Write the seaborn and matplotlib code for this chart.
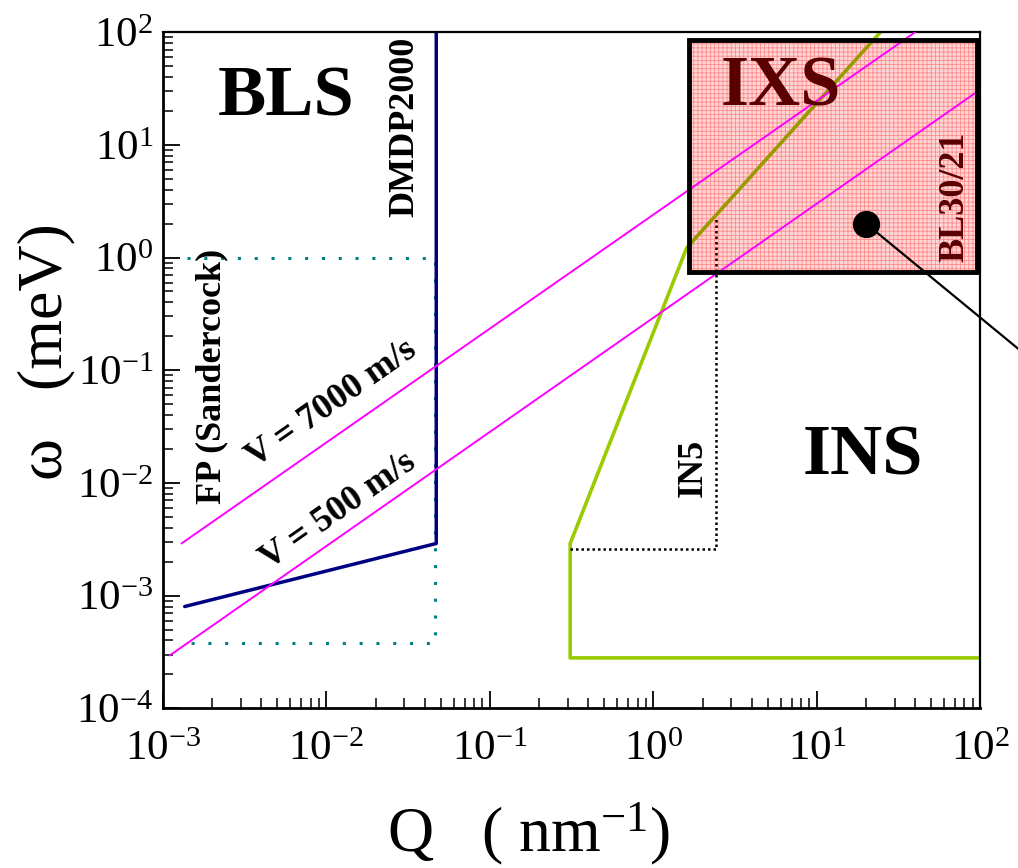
import seaborn as sns
import matplotlib.pyplot as plt
from matplotlib.patches import Rectangle
from matplotlib.ticker import LogLocator, NullFormatter

# values: Q in nm^-1, omega in meV
q_v7000 = [1.3e-3, 40.0]
w_v7000 = [2.9e-3, 100.0]
q_v500 = [1.1e-3, 100.0]
w_v500 = [2.94e-4, 31.0]

q_dmdp = [1.36e-3, 0.047, 0.047]
w_dmdp = [8.0e-4, 2.9e-3, 100.0]

q_fp = [1.4e-3, 0.046, 0.046, 1.4e-3]
w_fp = [1.0, 1.0, 3.8e-4, 3.8e-4]

q_ins = [100.0, 0.31, 0.31, 1.6, 24.5]
w_ins = [2.8e-4, 2.8e-4, 2.9e-3, 1.22, 100.0]

q_in5 = [0.31, 2.4, 2.4]
w_in5 = [2.6e-3, 2.6e-3, 2.2]

ixs_q = [1.66, 96.0]
ixs_w = [0.74, 85.0]

bl_q = [20.0]
bl_w = [2.0]
lead_q = [20.0, 200.0]
lead_w = [2.0, 0.128]

xticks = [1e-3, 1e-2, 1e-1, 1e0, 1e1, 1e2]
xtick_labels = [r"$\mathregular{10^{-3}}$", r"$\mathregular{10^{-2}}$", r"$\mathregular{10^{-1}}$",
                r"$\mathregular{10^{0}}$", r"$\mathregular{10^{1}}$", r"$\mathregular{10^{2}}$"]
yticks = [1e-4, 1e-3, 1e-2, 1e-1, 1e0, 1e1, 1e2]
ytick_labels = [r"$\mathregular{10^{-4}}$", r"$\mathregular{10^{-3}}$", r"$\mathregular{10^{-2}}$",
                r"$\mathregular{10^{-1}}$", r"$\mathregular{10^{0}}$", r"$\mathregular{10^{1}}$",
                r"$\mathregular{10^{2}}$"]

sns.set_style("ticks")
plt.rcParams['font.family'] = ['Liberation Serif', 'DejaVu Serif']
plt.rcParams['mathtext.fontset'] = 'stix'
plt.rcParams['mathtext.default'] = 'regular'
plt.rcParams['hatch.linewidth'] = 0.6
plt.rcParams['text.color'] = 'black'
plt.rcParams['axes.labelcolor'] = 'black'

fig = plt.figure(figsize=(10.18, 8.68), dpi=100)
ax = fig.add_axes([0.160, 0.184, 0.803, 0.779])
ax.set_xscale('log')
ax.set_yscale('log')
ax.set_xlim(1e-3, 1e2)
ax.set_ylim(1e-4, 1e2)

# IXS box (fill first, outline later)
box_fill = Rectangle((ixs_q[0], ixs_w[0]), ixs_q[1] - ixs_q[0], ixs_w[1] - ixs_w[0],
                     facecolor='#ffd6d6', edgecolor='#ff8c8c', linewidth=0, hatch='++++', zorder=2.5)
ax.add_patch(box_fill)

sns.lineplot(x=q_fp, y=w_fp, sort=False, estimator=None, color='#008080', lw=2.2,
             linestyle=(0, (1, 4.5)), ax=ax, zorder=2)
sns.lineplot(x=q_dmdp, y=w_dmdp, sort=False, estimator=None, color='#000080', lw=2.5, ax=ax, zorder=2)
sns.lineplot(x=q_ins, y=w_ins, sort=False, estimator=None, color='#99cc00', lw=2.6, ax=ax, zorder=2)
# the INS line seen through the IXS box
sns.lineplot(x=q_ins, y=w_ins, sort=False, estimator=None, color='#999900', lw=2.6, ax=ax, zorder=3)
ax.lines[-1].set_clip_path(box_fill)

sns.lineplot(x=q_in5, y=w_in5, sort=False, estimator=None, color='black', lw=1.8,
             linestyle=(0, (1, 1.2)), ax=ax, zorder=3)
sns.lineplot(x=q_v7000, y=w_v7000, sort=False, estimator=None, color='#ff00ff', lw=1.4, ax=ax, zorder=4)
sns.lineplot(x=q_v500, y=w_v500, sort=False, estimator=None, color='#ff00ff', lw=1.4, ax=ax, zorder=4)

ax.add_patch(Rectangle((ixs_q[0], ixs_w[0]), ixs_q[1] - ixs_q[0], ixs_w[1] - ixs_w[0],
                       fill=False, edgecolor='black', linewidth=3.5, zorder=6))

sns.lineplot(x=lead_q, y=lead_w, sort=False, estimator=None, color='black', lw=1.6, ax=ax,
             zorder=8, clip_on=False)
sns.scatterplot(x=bl_q, y=bl_w, s=330, color='black', edgecolor='black', ax=ax, zorder=9, clip_on=False)

# labels inside the plot
big = dict(fontsize=52, fontweight='bold', ha='center', va='center')
small = dict(fontsize=26, fontweight='bold', ha='center', va='center')
ax.text(5.7e-3, 26.0, "BLS", **big)
ax.text(6.05, 31.9, "IXS", color='#5a0000', zorder=7, **big)
ax.text(19.0, 0.017, "INS", **big)
ax.text(0.0303, 14.4, "DMDP2000", rotation=90, **small)
ax.text(2.0e-3, 0.0885, "FP (Sandercock)", rotation=90, **small)
ax.text(0.0108, 0.05, "V = 7000 m/s", rotation=35, **small)
ax.text(0.0119, 5.65e-3, "V = 500 m/s", rotation=35, **small)
ax.text(1.75, 0.0136, "IN5", rotation=90, **small)
ax.text(70.0, 3.47, "BL30/21", rotation=90, color='#5a0000', zorder=7, **small)

# axes styling
ax.set_xticks(xticks, labels=xtick_labels)
ax.set_yticks(yticks, labels=ytick_labels)
ax.xaxis.set_minor_locator(LogLocator(base=10, subs=range(2, 10)))
ax.yaxis.set_minor_locator(LogLocator(base=10, subs=range(2, 10)))
ax.xaxis.set_minor_formatter(NullFormatter())
ax.yaxis.set_minor_formatter(NullFormatter())
ax.tick_params(which='major', direction='in', length=12, width=1.3, labelsize=31, colors='black')
ax.tick_params(which='minor', direction='in', length=7, width=1.1, colors='black')
ax.tick_params(axis='x', which='major', pad=16)
ax.tick_params(axis='y', which='major', pad=7)
ax.tick_params(top=False, right=False, which='both')

for side in ['left', 'bottom']:
    ax.spines[side].set_linewidth(2.0)
for side in ['top', 'right']:
    ax.spines[side].set_linewidth(1.6)
    ax.spines[side].set_visible(True)
for sp in ax.spines.values():
    sp.set_color('black')

ax.set_xlabel("Q   ( nm$^{-1}$)", fontsize=46)
ax.set_ylabel("ω   (meV)", fontsize=46)
ax.xaxis.label.set_va('center')
ax.yaxis.label.set_va('center')
ax.yaxis.label.set_ha('center')
ax.xaxis.set_label_coords(0.447, -0.186)
ax.yaxis.set_label_coords(-0.142, 0.528)

fig.savefig("out.png", dpi=100)
